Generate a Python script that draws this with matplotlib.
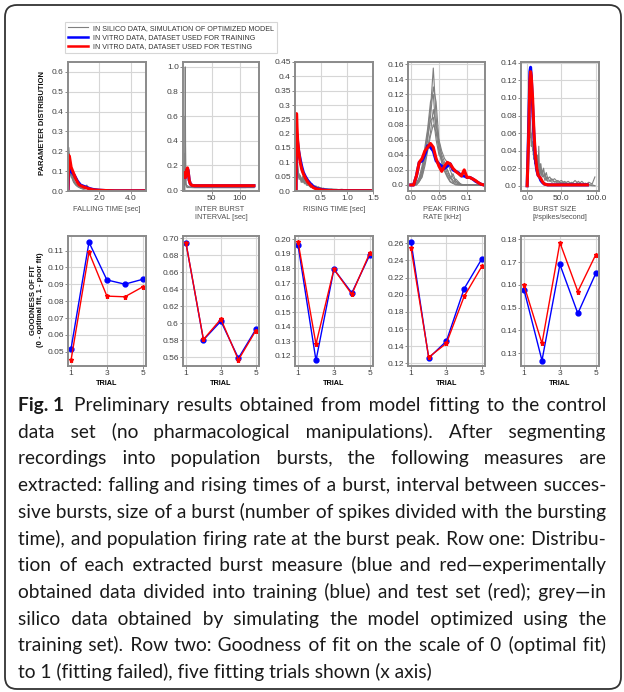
#!/usr/bin/env python3
"""Fig. 1: burst measure distributions and goodness of fit over five trials."""

import matplotlib
matplotlib.use('Agg')
import matplotlib.pyplot as plt
from matplotlib.patches import FancyBboxPatch
from matplotlib.lines import Line2D

# ── Data: row one, parameter distributions ──
fall_x = [0, 0.05, 0.1, 0.2, 0.3, 0.4, 0.5, 0.6, 0.7, 0.8, 0.9, 1.0, 1.2, 1.4, 1.6,
          1.8, 2.0, 2.5, 3.0, 3.5, 4.0, 4.5, 4.9]
fall_blue = [0, 0.10, 0.11, 0.10, 0.09, 0.08, 0.065, 0.05, 0.04, 0.03, 0.027, 0.024,
             0.018, 0.012, 0.008, 0.006, 0.004, 0.002, 0.001, 0.001, 0.001, 0.001, 0.001]
fall_red = [0, 0.18, 0.17, 0.12, 0.10, 0.08, 0.06, 0.045, 0.032, 0.027, 0.024, 0.02,
            0.015, 0.01, 0.006, 0.005, 0.004, 0.002, 0.001, 0.001, 0.001, 0.001, 0.001]
fall_gx = [0, 0.04, 0.06, 0.08, 0.1, 0.15, 0.2, 0.25, 0.3, 0.35, 0.4, 0.5, 0.6, 0.7, 0.8,
           0.9, 1.0, 1.1, 1.2, 1.3, 1.4, 1.6, 1.8, 2.0, 2.4, 2.8, 3.2, 3.6, 4.0, 4.5, 4.9]
fall_gray = [
    [0, 0.22, 0.20, 0.16, 0.13, 0.11, 0.10, 0.085, 0.075, 0.06, 0.05, 0.04, 0.03, 0.02, 0.018,
     0.015, 0.012, 0.02, 0.03, 0.015, 0.008, 0.005, 0.004, 0.003, 0.002, 0.001, 0.001, 0.001,
     0.001, 0.001, 0.001],
    [0, 0.15, 0.19, 0.14, 0.12, 0.10, 0.09, 0.08, 0.065, 0.07, 0.045, 0.035, 0.028, 0.022,
     0.015, 0.012, 0.01, 0.015, 0.02, 0.01, 0.006, 0.004, 0.003, 0.002, 0.001, 0.001, 0, 0, 0,
     0, 0],
    [0, 0.18, 0.14, 0.12, 0.10, 0.09, 0.08, 0.07, 0.06, 0.05, 0.04, 0.03, 0.025, 0.02, 0.016,
     0.014, 0.012, 0.01, 0.025, 0.012, 0.007, 0.005, 0.003, 0.002, 0.001, 0.001, 0.001, 0, 0,
     0, 0],
    [0, 0.12, 0.16, 0.13, 0.11, 0.085, 0.07, 0.065, 0.055, 0.045, 0.04, 0.03, 0.022, 0.018,
     0.014, 0.011, 0.009, 0.012, 0.016, 0.009, 0.005, 0.004, 0.002, 0.002, 0.001, 0.001, 0, 0,
     0, 0, 0],
]

ibi_x = [2, 3, 4, 5, 6, 7, 8, 9, 10, 12, 14, 16, 20, 25, 30, 40, 60, 80, 100, 120, 125]
ibi_blue = [0.13, 0.10, 0.12, 0.15, 0.16, 0.17, 0.16, 0.12, 0.08, 0.05, 0.04, 0.037, 0.035,
            0.035, 0.035, 0.035, 0.035, 0.035, 0.035, 0.035, 0.035]
ibi_red = [0.14, 0.10, 0.12, 0.15, 0.17, 0.18, 0.16, 0.12, 0.08, 0.05, 0.04, 0.037, 0.035,
           0.035, 0.035, 0.035, 0.035, 0.035, 0.035, 0.035, 0.035]
ibi_gx = [2, 2.5, 3, 3.5, 4, 5, 6, 8, 10, 15, 20, 30, 50, 70, 90, 110, 125]
ibi_gray = [
    [0, 0.4, 1.0, 0.4, 0.06, 0.03, 0.02, 0.02, 0.02, 0.02, 0.02, 0.02, 0.02, 0.02, 0.02, 0.02,
     0.025],
    [0, 0.2, 0.6, 0.25, 0.05, 0.04, 0.035, 0.03, 0.025, 0.02, 0.02, 0.02, 0.02, 0.02, 0.02,
     0.02, 0.02],
    [0.05, 0.1, 0.3, 0.15, 0.05, 0.04, 0.035, 0.03, 0.025, 0.022, 0.02, 0.02, 0.02, 0.02, 0.02,
     0.02, 0.02],
]

rise_x = [0, 0.02, 0.03, 0.04, 0.05, 0.07, 0.1, 0.13, 0.16, 0.2, 0.25, 0.3, 0.35, 0.4, 0.5,
          0.6, 0.8, 1.0, 1.2, 1.5]
rise_blue = [0, 0, 0.20, 0.19, 0.17, 0.14, 0.11, 0.085, 0.065, 0.05, 0.035, 0.025, 0.016,
             0.01, 0.005, 0.003, 0.001, 0.001, 0.001, 0.001]
rise_red = [0, 0, 0.27, 0.22, 0.18, 0.14, 0.10, 0.075, 0.06, 0.045, 0.03, 0.02, 0.012, 0.008,
            0.004, 0.002, 0.001, 0.001, 0.001, 0.001]
rise_gx = [0, 0.02, 0.03, 0.04, 0.05, 0.06, 0.08, 0.1, 0.12, 0.14, 0.16, 0.18, 0.2, 0.22,
           0.24, 0.26, 0.28, 0.3, 0.33, 0.36, 0.4, 0.45, 0.5, 0.55, 0.6, 0.7, 0.8, 0.9, 1.0,
           1.1, 1.2, 1.3, 1.4, 1.5]
rise_gray = [
    [0, 0, 0.15, 0.12, 0.09, 0.07, 0.05, 0.045, 0.03, 0.04, 0.055, 0.035, 0.05, 0.03, 0.04,
     0.025, 0.035, 0.02, 0.025, 0.012, 0.018, 0.01, 0.012, 0.006, 0.008, 0.005, 0.004, 0.006,
     0.003, 0.005, 0.002, 0.004, 0.002, 0.003],
    [0, 0, 0.12, 0.10, 0.08, 0.065, 0.04, 0.055, 0.035, 0.05, 0.03, 0.045, 0.028, 0.04, 0.02,
     0.03, 0.018, 0.025, 0.012, 0.02, 0.01, 0.015, 0.008, 0.01, 0.005, 0.007, 0.006, 0.003,
     0.005, 0.002, 0.004, 0.001, 0.003, 0.002],
    [0, 0, 0.14, 0.11, 0.10, 0.06, 0.06, 0.04, 0.045, 0.03, 0.04, 0.025, 0.035, 0.02, 0.03,
     0.022, 0.015, 0.02, 0.015, 0.01, 0.012, 0.008, 0.01, 0.005, 0.006, 0.004, 0.005, 0.002,
     0.004, 0.003, 0.001, 0.003, 0.001, 0.002],
    [0, 0, 0.10, 0.09, 0.07, 0.05, 0.045, 0.05, 0.04, 0.035, 0.045, 0.03, 0.025, 0.035, 0.02,
     0.02, 0.025, 0.012, 0.018, 0.015, 0.008, 0.01, 0.006, 0.008, 0.004, 0.006, 0.003, 0.004,
     0.002, 0.003, 0.003, 0.002, 0.002, 0.001],
]

pfr_x = [0.0, 0.005, 0.01, 0.015, 0.02, 0.025, 0.03, 0.035, 0.04, 0.045, 0.05, 0.055, 0.06,
         0.065, 0.07, 0.075, 0.08, 0.085, 0.09, 0.095, 0.1, 0.105, 0.11, 0.115, 0.12, 0.125,
         0.13]
pfr_blue = [0, 0, 0.012, 0.03, 0.032, 0.04, 0.052, 0.05, 0.045, 0.032, 0.028, 0.025, 0.022,
            0.025, 0.028, 0.02, 0.018, 0.016, 0.012, 0.012, 0.01, 0.01, 0.008, 0.005, 0.003,
            0.001, 0]
pfr_red = [0, 0, 0.012, 0.03, 0.035, 0.045, 0.05, 0.055, 0.05, 0.035, 0.025, 0.018, 0.025,
           0.03, 0.028, 0.022, 0.018, 0.015, 0.012, 0.02, 0.01, 0.01, 0.008, 0.006, 0.003,
           0.001, 0]
pfr_gray = [
    [0, 0, 0.002, 0.008, 0.02, 0.045, 0.07, 0.10, 0.155, 0.09, 0.05, 0.03, 0.02, 0.012, 0.005,
     0.002, 0, 0, 0, 0, 0, 0, 0, 0, 0, 0, 0],
    [0, 0, 0, 0.005, 0.015, 0.035, 0.06, 0.09, 0.13, 0.11, 0.06, 0.035, 0.025, 0.02, 0.01,
     0.004, 0.001, 0, 0, 0, 0, 0, 0, 0, 0, 0, 0],
    [0, 0, 0.003, 0.01, 0.025, 0.05, 0.075, 0.11, 0.12, 0.07, 0.045, 0.03, 0.018, 0.01, 0.004,
     0.002, 0.008, 0.004, 0, 0, 0, 0, 0, 0, 0, 0, 0],
    [0, 0, 0, 0.004, 0.012, 0.03, 0.05, 0.07, 0.10, 0.08, 0.055, 0.04, 0.03, 0.02, 0.012,
     0.006, 0.003, 0.001, 0, 0, 0, 0, 0, 0, 0, 0, 0],
    [0, 0, 0.002, 0.006, 0.018, 0.04, 0.065, 0.085, 0.09, 0.06, 0.04, 0.035, 0.025, 0.015,
     0.008, 0.015, 0.005, 0.002, 0, 0, 0, 0, 0, 0, 0, 0, 0],
    [0, 0, 0.001, 0.005, 0.01, 0.025, 0.045, 0.065, 0.08, 0.07, 0.06, 0.045, 0.035, 0.03,
     0.02, 0.01, 0.005, 0.003, 0.001, 0, 0, 0, 0, 0, 0, 0, 0],
]

size_x = [0, 2, 4, 5, 6, 8, 10, 12, 14, 16, 18, 20, 22, 25, 30, 35, 40, 50, 60, 70, 80, 88]
size_blue = [0, 0.06, 0.13, 0.135, 0.125, 0.09, 0.055, 0.03, 0.018, 0.012, 0.01, 0.006,
             0.004, 0.002, 0.001, 0.001, 0.001, 0.001, 0.001, 0.001, 0.001, 0.001]
size_red = [0, 0.05, 0.12, 0.13, 0.125, 0.10, 0.06, 0.035, 0.02, 0.012, 0.01, 0.008, 0.005,
            0.002, 0.001, 0.001, 0.001, 0.001, 0.001, 0.001, 0.001, 0.001]
size_gx = [0, 1, 2, 3, 4, 5, 6, 7, 8, 9, 10, 11, 12, 13, 14, 15, 16, 17, 18, 19, 20, 22, 24,
           26, 28, 30, 33, 36, 40, 45, 50, 55, 60, 65, 70, 75, 80, 85, 90, 95, 99]
size_gray = [
    [0, 0.02, 0.06, 0.075, 0.065, 0.055, 0.06, 0.05, 0.045, 0.04, 0.035, 0.03, 0.04, 0.028,
     0.025, 0.035, 0.02, 0.045, 0.018, 0.015, 0.025, 0.012, 0.02, 0.01, 0.015, 0.008, 0.01,
     0.006, 0.008, 0.004, 0.006, 0.003, 0.005, 0.002, 0.006, 0.002, 0.005, 0.001, 0.004,
     0.002, 0.01],
    [0, 0.015, 0.05, 0.07, 0.08, 0.07, 0.055, 0.045, 0.05, 0.035, 0.04, 0.025, 0.03, 0.035,
     0.02, 0.025, 0.03, 0.015, 0.02, 0.025, 0.012, 0.018, 0.01, 0.014, 0.006, 0.01, 0.005,
     0.008, 0.004, 0.006, 0.002, 0.005, 0.001, 0.004, 0.002, 0.003, 0.001, 0.002, 0.001, 0, 0],
    [0, 0.03, 0.065, 0.06, 0.055, 0.06, 0.045, 0.05, 0.04, 0.045, 0.03, 0.035, 0.025, 0.03,
     0.03, 0.02, 0.025, 0.022, 0.012, 0.02, 0.015, 0.01, 0.012, 0.006, 0.01, 0.005, 0.006,
     0.004, 0.005, 0.003, 0.004, 0.002, 0.003, 0.001, 0.002, 0.005, 0.001, 0.003, 0.001,
     0.001, 0],
]

# ── Data: row two, goodness of fit per trial ──
trials = [1, 2, 3, 4, 5]
gof_fall_blue = [0.0518, 0.115, 0.0926, 0.0901, 0.0930]
gof_fall_red = [0.0450, 0.109, 0.0830, 0.0826, 0.0885]
gof_ibi_blue = [0.6945, 0.5805, 0.6025, 0.5590, 0.5930]
gof_ibi_red = [0.6945, 0.5810, 0.6050, 0.5570, 0.5915]
gof_rise_blue = [0.1960, 0.1168, 0.1795, 0.1632, 0.1893]
gof_rise_red = [0.1982, 0.1280, 0.1795, 0.1623, 0.1906]
gof_pfr_blue = [0.2620, 0.1262, 0.1460, 0.2070, 0.2418]
gof_pfr_red = [0.2545, 0.1272, 0.1435, 0.1980, 0.2330]
gof_size_blue = [0.1578, 0.1268, 0.1690, 0.1475, 0.1651]
gof_size_red = [0.1598, 0.1343, 0.1786, 0.1571, 0.1733]

top_xlabels = ['FALLING TIME [sec]', 'INTER BURST\nINTERVAL [sec]', 'RISING TIME [sec]',
               'PEAK FIRING\nRATE [kHz]', 'BURST SIZE\n[#spikes/second]']
legend_labels = ['IN SILICO DATA, SIMULATION OF OPTIMIZED MODEL',
                 'IN VITRO DATA, DATASET USED FOR TRAINING',
                 'IN VITRO DATA, DATASET USED FOR TESTING']

caption_lines = [
    'Preliminary results obtained from model fitting to the control',
    'data set (no pharmacological manipulations). After segmenting',
    'recordings into population bursts, the following measures are',
    'extracted: falling and rising times of a burst, interval between succes-',
    'sive bursts, size of a burst (number of spikes divided with the bursting',
    'time), and population firing rate at the burst peak. Row one: Distribu-',
    'tion of each extracted burst measure (blue and red\u2014experimentally',
    'obtained data divided into training (blue) and test set (red); grey\u2014in',
    'silico data obtained by simulating the model optimized using the',
    'training set). Row two: Goodness of fit on the scale of 0 (optimal fit)',
    'to 1 (fitting failed), five fitting trials shown (x axis)',
]

# ── Style ──
W, H = 624, 692
c_blue = '#0000ff'
c_red = '#ff0000'
c_gray = '#7f7f7f'
spine_color = '#8a8a8a'
grid_color = '#d6d6d6'
tick_color = '#404040'
tick_font = 'Liberation Sans'
cap_font = ['Lato', 'DejaVu Sans']
HAIR = '\u200a'

fig = plt.figure(figsize=(W / 100, H / 100), dpi=100)
fig.patch.set_facecolor('white')

# background axes in pixel coordinates (border + caption)
bg = fig.add_axes([0, 0, 1, 1])
bg.set_xlim(0, W)
bg.set_ylim(H, 0)
bg.axis('off')
bg.add_patch(FancyBboxPatch((5, 5), 616, 684,
                            boxstyle='round,pad=0,rounding_size=12',
                            facecolor='none', edgecolor='#333333', linewidth=1.3))


def px_axes(x0, y0, x1, y1):
    return fig.add_axes([x0 / W, 1 - y1 / H, (x1 - x0) / W, (y1 - y0) / H])


def style_axes(ax, xlim, ylim, xticks, xticklabels, yticks, yticklabels):
    ax.set_xlim(*xlim)
    ax.set_ylim(*ylim)
    ax.set_xticks(xticks)
    ax.set_xticklabels(xticklabels)
    ax.set_yticks(yticks)
    ax.set_yticklabels(yticklabels)
    ax.grid(True, color=grid_color, linewidth=0.8)
    ax.set_axisbelow(True)
    for sp in ax.spines.values():
        sp.set_color(spine_color)
        sp.set_linewidth(1.4)
    ax.tick_params(direction='out', length=2, width=0.7, color=spine_color,
                   labelsize=6, labelcolor=tick_color, pad=1)
    for lab in ax.get_xticklabels() + ax.get_yticklabels():
        lab.set_family(tick_font)


# ═══════════════════════════════════════════════════
# ROW ONE: distributions
# ═══════════════════════════════════════════════════
col_pos = [(68, 146), (183, 259), (295, 373), (408, 485), (521, 599)]
top_y0, top_y1 = 62, 191

top_sets = [
    (fall_gx, fall_gray, fall_x, fall_blue, fall_red),
    (ibi_gx, ibi_gray, ibi_x, ibi_blue, ibi_red),
    (rise_gx, rise_gray, rise_x, rise_blue, rise_red),
    (pfr_x, pfr_gray, pfr_x, pfr_blue, pfr_red),
    (size_gx, size_gray, size_x, size_blue, size_red),
]
top_limits = [
    ((0, 4.98), (0, 0.65), [2, 4], ['2.0', '4.0'],
     [0, 0.1, 0.2, 0.3, 0.4, 0.5, 0.6], ['0.0', '0.1', '0.2', '0.3', '0.4', '0.5', '0.6']),
    ((-1, 134), (-0.008, 1.04), [50, 100], ['50', '100'],
     [0, 0.2, 0.4, 0.6, 0.8, 1.0], ['0.0', '0.2', '0.4', '0.6', '0.8', '1.0']),
    ((0, 1.5), (0, 0.45), [0.5, 1.0, 1.5], ['0.5', '1.0', '1.5'],
     [0, 0.05, 0.1, 0.15, 0.2, 0.25, 0.3, 0.35, 0.4, 0.45],
     ['0.0', '0.05', '0.1', '0.15', '0.2', '0.25', '0.3', '0.35', '0.4', '0.45']),
    ((-0.005, 0.132), (-0.008, 0.163), [0, 0.05, 0.1], ['0.0', '0.05', '0.1'],
     [0, 0.02, 0.04, 0.06, 0.08, 0.1, 0.12, 0.14, 0.16],
     ['0.0', '0.02', '0.04', '0.06', '0.08', '0.10', '0.12', '0.14', '0.16']),
    ((-9, 105), (-0.006, 0.141), [0, 50, 100], ['0.0', '50.0', '100.0'],
     [0, 0.02, 0.04, 0.06, 0.08, 0.1, 0.12, 0.14],
     ['0.0', '0.02', '0.04', '0.06', '0.08', '0.10', '0.12', '0.14']),
]

for (x0, x1), (gx, grays, x, blue, red), lims, xl in zip(col_pos, top_sets, top_limits,
                                                           top_xlabels):
    ax = px_axes(x0, top_y0, x1, top_y1)
    for g in grays:
        ax.plot(gx, g, color=c_gray, linewidth=0.8)
    ax.plot(x, blue, color=c_blue, linewidth=2.2)
    ax.plot(x, red, color=c_red, linewidth=2.2)
    style_axes(ax, *lims)
    ax.set_xlabel(xl, fontsize=5.3, color='#505050', family=tick_font,
                  multialignment='left', labelpad=3)

# ═══════════════════════════════════════════════════
# ROW TWO: goodness of fit
# ═══════════════════════════════════════════════════
bot_y0, bot_y1 = 236, 366
bot_sets = [
    (gof_fall_blue, gof_fall_red, (0.0415, 0.1187),
     [0.05, 0.06, 0.07, 0.08, 0.09, 0.10, 0.11],
     ['0.05', '0.06', '0.07', '0.08', '0.09', '0.10', '0.11']),
    (gof_ibi_blue, gof_ibi_red, (0.5498, 0.7027),
     [0.56, 0.58, 0.60, 0.62, 0.64, 0.66, 0.68, 0.70],
     ['0.56', '0.58', '0.6', '0.62', '0.64', '0.66', '0.68', '0.70']),
    (gof_rise_blue, gof_rise_red, (0.113, 0.2023),
     [0.12, 0.13, 0.14, 0.15, 0.16, 0.17, 0.18, 0.19, 0.20],
     ['0.12', '0.13', '0.14', '0.15', '0.16', '0.17', '0.18', '0.19', '0.20']),
    (gof_pfr_blue, gof_pfr_red, (0.117, 0.2685),
     [0.12, 0.14, 0.16, 0.18, 0.20, 0.22, 0.24, 0.26],
     ['0.12', '0.14', '0.16', '0.18', '0.20', '0.22', '0.24', '0.26']),
    (gof_size_blue, gof_size_red, (0.1244, 0.1815),
     [0.13, 0.14, 0.15, 0.16, 0.17, 0.18],
     ['0.13', '0.14', '0.15', '0.16', '0.17', '0.18']),
]

for (x0, x1), (blue, red, ylim, yt, ytl) in zip(col_pos, bot_sets):
    ax = px_axes(x0, bot_y0, x1, bot_y1)
    ax.plot(trials, blue, color=c_blue, linewidth=1.0, marker='o', markersize=3.5)
    ax.plot(trials, red, color=c_red, linewidth=1.0, marker='*', markersize=3.6)
    style_axes(ax, (0.83, 5.18), ylim, [1, 3, 5], ['1', '3', '5'], yt, ytl)
    ax.set_xlabel('TRIAL', fontsize=5.2, fontweight='bold', family=tick_font, labelpad=2)

# ── Y labels ──
bg.text(43, 123, 'PARAMETER DISTRIBUTION', rotation=90, ha='center', va='center',
        fontsize=5.5, fontweight='bold', family=tick_font, color='#111111')
bg.text(37, 300, 'GOODNESS OF FIT\n(0 - optimal fit, 1 - poor fit)', rotation=90,
        ha='center', va='center', fontsize=5.5, fontweight='bold', family=tick_font,
        color='#111111', linespacing=1.1)

# ── Legend ──
handles = [Line2D([], [], color=c_gray, linewidth=0.8),
           Line2D([], [], color=c_blue, linewidth=1.8),
           Line2D([], [], color=c_red, linewidth=1.8)]
leg = fig.legend(handles, legend_labels, loc='center',
                 bbox_to_anchor=(171 / W, 1 - 37.5 / H),
                 prop={'family': tick_font, 'size': 5.1},
                 handlelength=2.8, handletextpad=0.6, labelspacing=0.3,
                 borderpad=0.45, frameon=True, fancybox=False)
leg.get_frame().set_edgecolor('#cccccc')
leg.get_frame().set_linewidth(0.8)
for t in leg.get_texts():
    t.set_color('#333333')

# ═══════════════════════════════════════════════════
# CAPTION (one text per line, justified with hair spaces)
# ═══════════════════════════════════════════════════
renderer = fig.canvas.get_renderer()


def measure(s, size, weight='normal'):
    t = bg.text(0, 0, s, fontsize=size, family=cap_font, fontweight=weight)
    w = t.get_window_extent(renderer=renderer).width
    t.remove()
    return w


cap_left, cap_right = 18, 606
fig_label = 'Fig. 1'
base_size = 14
base_space = measure('a a', base_size) - measure('aa', base_size)
natural = [measure(fig_label, base_size, 'bold') + 2 * base_space
           + measure(caption_lines[0], base_size)]
natural += [measure(l, base_size) for l in caption_lines[1:-1]]
cap_size = base_size * (cap_right - cap_left - 2) / max(natural)
space_w = measure('a a', cap_size) - measure('aa', cap_size)
fill_char = HAIR
fill_w = measure('a' + HAIR * 4 + 'a', cap_size) / 4 - measure('aa', cap_size) / 4
if fill_w < 0.3:
    fill_char, fill_w = ' ', space_w
cap_base0, cap_step = 411, 26.7

for i, line in enumerate(caption_lines):
    y = cap_base0 + cap_step * i
    x0 = cap_left
    if i == 0:
        bg.text(x0, y, fig_label, fontsize=cap_size, family=cap_font, fontweight='bold',
                ha='left', va='baseline', color='#1a1a1a')
        x0 += measure(fig_label, cap_size, 'bold') + 2 * space_w
    words = line.split(' ')
    ngaps = len(words) - 1
    counts = [0] * ngaps
    if i < len(caption_lines) - 1:
        n_extra = int(round((cap_right - x0 - measure(line, cap_size)) / fill_w))
        for k in range(max(n_extra, 0)):
            counts[int((k + 0.5) * ngaps / n_extra)] += 1
    text = words[0]
    for c, w in zip(counts, words[1:]):
        text += ' ' + fill_char * c + w
    bg.text(x0, y, text, fontsize=cap_size, family=cap_font, ha='left', va='baseline',
            color='#1a1a1a')

plt.savefig('out.png', dpi=100, facecolor='white')
